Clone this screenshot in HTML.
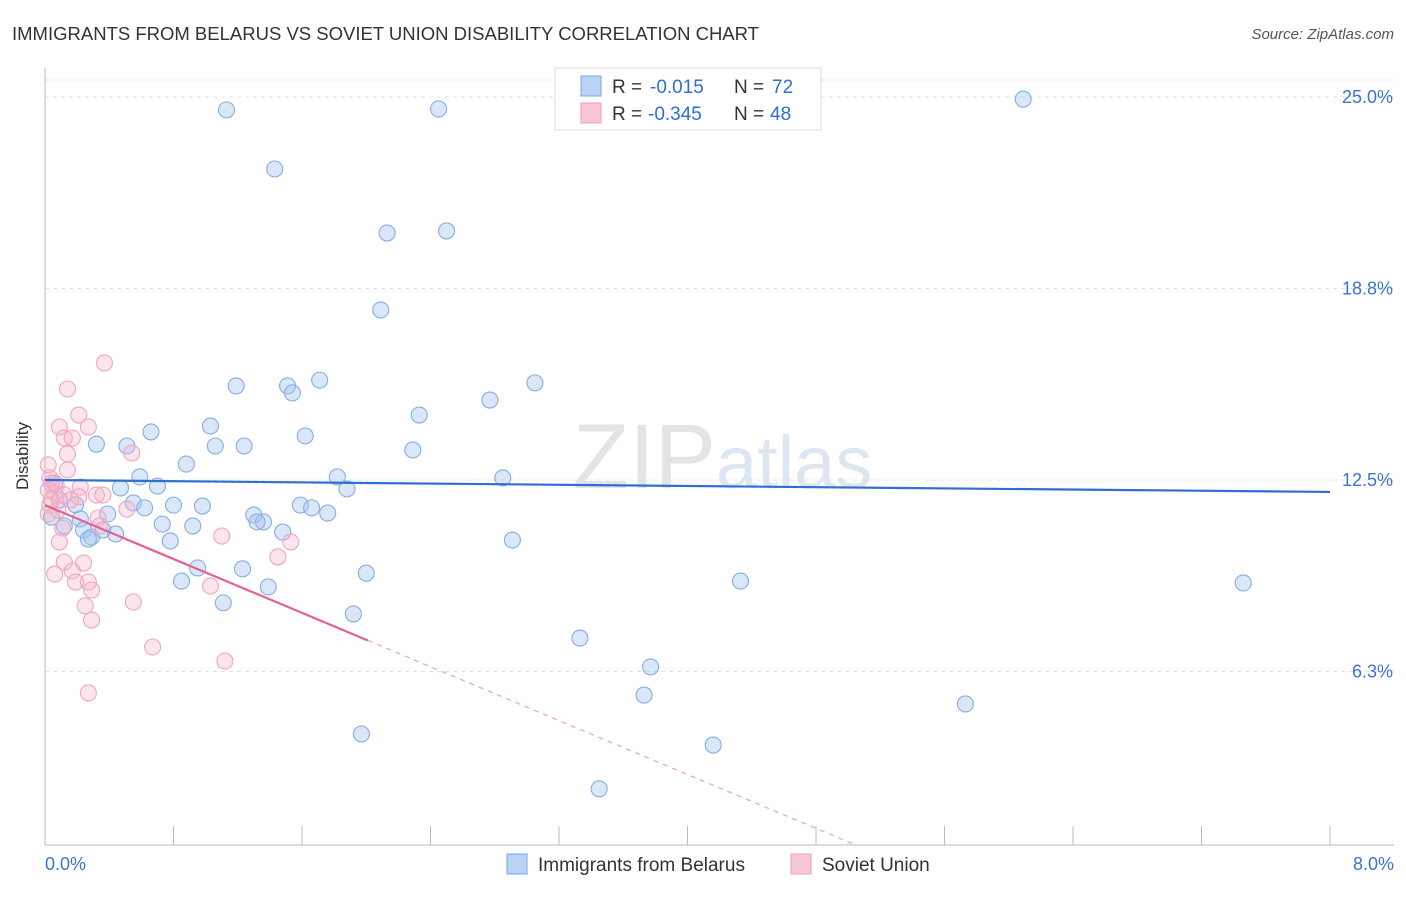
<!DOCTYPE html>
<html><head><meta charset="utf-8"><style>
body{margin:0;background:#fff;font-family:"Liberation Sans",sans-serif}
svg text{font-family:"Liberation Sans",sans-serif}
</style></head><body>
<svg id="c" width="1406" height="892" xmlns="http://www.w3.org/2000/svg">
<text x="12" y="40" font-size="18.5" fill="#333">IMMIGRANTS FROM BELARUS VS SOVIET UNION DISABILITY CORRELATION CHART</text>
<text x="1394" y="39" font-size="15" fill="#555" font-style="italic" text-anchor="end">Source: ZipAtlas.com</text>
<text x="716" y="488" font-size="92" fill="#e4e4e4" text-anchor="end" font-family="Liberation Serif">ZIP</text>
<text x="716" y="488" font-size="74" fill="#dde6f3">atlas</text>
<g id="grid"></g>
<g id="pts"></g>
<g id="lines"></g>
<text x="28" y="456" font-size="17" fill="#333" text-anchor="middle" transform="rotate(-90 28 456)">Disability</text>
<text x="45" y="870" font-size="18" fill="#3d74c9">0.0%</text>
<text x="1394" y="870" font-size="18" fill="#3d74c9" text-anchor="end">8.0%</text>
<g>
<rect x="555" y="68" width="266" height="62" fill="#fff" stroke="#ddd"/>
<rect x="581" y="76" width="20" height="20" fill="#b9d3f5" stroke="#7aa6e0"/>
<rect x="581" y="103" width="20" height="20" fill="#f9c6d6" stroke="#eda0b8"/>
<text x="612" y="93" font-size="19" fill="#333">R =</text>
<text x="650" y="93" font-size="19" fill="#2f6fd1">-0.015</text>
<text x="734" y="93" font-size="19" fill="#333">N =</text>
<text x="772" y="93" font-size="19" fill="#2f6fd1">72</text>
<text x="612" y="120" font-size="19" fill="#333">R =</text>
<text x="648" y="120" font-size="19" fill="#2f6fd1">-0.345</text>
<text x="734" y="120" font-size="19" fill="#333">N =</text>
<text x="770" y="120" font-size="19" fill="#2f6fd1">48</text>
</g>
<g>
<rect x="507" y="854" width="20" height="20" fill="#b9d3f5" stroke="#7aa6e0"/>
<text x="538" y="871" font-size="19" fill="#333">Immigrants from Belarus</text>
<rect x="791" y="854" width="20" height="20" fill="#f9c6d6" stroke="#eda0b8"/>
<text x="822" y="871" font-size="19" fill="#333">Soviet Union</text>
</g>
</svg>
<script>
const yTicks=[6.25,12.5,18.75,25];
const yTickLabels=["6.3%","12.5%","18.8%","25.0%"];
const xTicks=[0,0.8,1.6,2.4,3.2,4,4.8,5.6,6.4,7.2,8];
const belarusX=[1.13,2.45,6.09,1.43,2.13,2.50,2.09,1.19,1.51,1.54,1.71,3.05,2.77,2.33,1.03,0.66,1.62,0.32,0.51,1.06,1.24,2.29,0.88,0.59,1.82,2.85,0.47,0.70,1.88,0.06,0.09,0.19,0.55,0.62,0.80,0.98,1.59,1.66,1.76,1.30,1.36,1.32,1.48,0.73,0.92,0.12,0.22,0.04,0.24,0.29,0.36,0.44,0.39,0.78,2.91,0.95,1.23,2.00,0.85,1.39,4.33,7.46,1.11,1.92,3.33,3.77,3.73,5.73,1.97,4.16,3.45,0.27];
const belarusY=[24.58,24.61,24.93,22.65,20.56,20.63,18.05,15.57,15.57,15.34,15.76,15.67,15.11,14.62,14.26,14.07,13.94,13.67,13.61,13.61,13.61,13.48,13.02,12.60,12.60,12.57,12.24,12.30,12.21,12.40,11.85,11.69,11.75,11.59,11.68,11.65,11.68,11.59,11.42,11.36,11.13,11.13,10.80,11.06,11.00,11.00,11.23,11.29,10.87,10.64,10.87,10.74,11.39,10.51,10.54,9.63,9.60,9.46,9.20,9.01,9.20,9.14,8.49,8.13,7.34,6.40,5.48,5.19,4.21,3.85,2.42,10.57];
const sovietX=[0.37,0.14,0.21,0.09,0.27,0.12,0.17,0.54,0.14,0.14,0.02,0.03,0.07,0.22,0.02,0.06,0.12,0.21,0.32,0.36,0.03,0.08,0.02,0.33,0.51,0.34,0.11,1.10,1.53,0.09,1.45,0.12,0.24,0.06,0.17,0.27,0.19,0.29,1.03,0.55,0.25,0.29,0.67,1.12,0.27,0.04,0.04,0.16];
const sovietY=[16.32,15.47,14.62,14.23,14.23,13.87,13.87,13.38,13.35,12.83,12.99,12.57,12.34,12.27,12.17,12.08,12.01,11.95,12.01,12.01,11.68,11.52,11.39,11.26,11.55,11.00,10.93,10.67,10.48,10.48,9.99,9.82,9.79,9.43,9.53,9.17,9.17,8.91,9.04,8.52,8.39,7.93,7.05,6.59,5.55,12.40,11.85,11.85];
const belarusTrend=[12.5,12.11];
const sovietTrend=[11.68,-5.9];
const sovietSolidEnd=2.01;
const NS='http://www.w3.org/2000/svg';
const X=v=>45+v*160.625, Y=v=>480-(v-12.5)*30.64;
function mk(t,a,p){const e=document.createElementNS(NS,t);for(const k in a)e.setAttribute(k,a[k]);p.appendChild(e);return e;}
const g=document.getElementById('grid');
yTicks.forEach((t,i)=>{
 const l=mk('line',{x1:45,x2:1394,y1:Y(t),y2:Y(t),stroke:'#e2e2e2','stroke-dasharray':'4,4'},g);
 
 
 const tx=mk('text',{x:1393,y:Y(t)+6,'font-size':18,fill:'#3d74c9','text-anchor':'end'},g);
 tx.textContent=yTickLabels[i];
 
 
});
mk('line',{x1:45,x2:1394,y1:80,y2:80,stroke:'#e2e2e2','stroke-dasharray':'4,4'},g);
const ax=mk('line',{x1:45,x2:1394,y1:845,y2:845,stroke:'#bbb'},g);


const ay=mk('line',{x1:45,x2:45,y1:68,y2:845,stroke:'#bbb'},g);


xTicks.forEach(t=>{const l=mk('line',{x1:X(t),x2:X(t),y1:826,y2:845,stroke:'#bbb'},g);
 
 });
const p=document.getElementById('pts');
belarusX.forEach((v,i)=>{const c=mk('circle',{cx:X(v),cy:Y(belarusY[i]),r:8,fill:'rgba(160,195,240,0.4)',stroke:'#86ade3','stroke-width':1.1},p);
 
 });
sovietX.forEach((v,i)=>{const c=mk('circle',{cx:X(v),cy:Y(sovietY[i]),r:8,fill:'rgba(247,180,202,0.35)',stroke:'#efa6bf','stroke-width':1.1},p);
 
 });
const L=document.getElementById('lines');
const b=mk('line',{x1:X(0),y1:Y(belarusTrend[0]),x2:X(8),y2:Y(belarusTrend[1]),stroke:'#2f6fd1','stroke-width':2.2},L);


const sl=(sovietTrend[1]-sovietTrend[0])/8, sv=x=>sovietTrend[0]+sl*x;
const s=mk('line',{x1:X(0),y1:Y(sv(0)),x2:X(sovietSolidEnd),y2:Y(sv(sovietSolidEnd)),stroke:'#e4628f','stroke-width':2.2},L);


const xe=(sovietTrend[0]-(12.5-(845-480)/30.64))/-sl;
const d=mk('line',{x1:X(sovietSolidEnd),y1:Y(sv(sovietSolidEnd)),x2:X(xe),y2:845,stroke:'#eda0b8','stroke-width':1.2,'stroke-dasharray':'5,5'},L);


</script>
</body></html>
